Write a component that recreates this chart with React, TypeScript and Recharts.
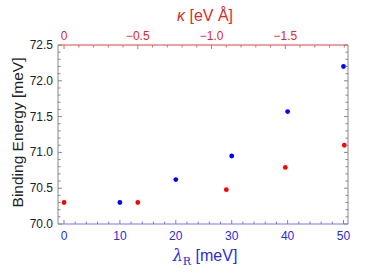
import { ScatterChart, Scatter, XAxis, YAxis, Label } from "recharts";

// blue points: bottom axis (lambda_R in meV)
const lambdaR = [10, 20, 30, 40, 50];
const bindingLambda = [70.3, 70.62, 70.95, 71.57, 72.2];

// red points: top axis (kappa in eV Å)
const kappa = [0, -0.5, -1.1, -1.5, -1.9];
const bindingKappa = [70.3, 70.3, 70.48, 70.79, 71.1];

const lambdaMajor = [0, 10, 20, 30, 40, 50];
const kappaMajor = [0, -0.5, -1.0, -1.5];
const energyMajor = [70.0, 70.5, 71.0, 71.5, 72.0, 72.5];

const range = (from: number, to: number, step: number) => {
  const out: number[] = [];
  const n = Math.round((to - from) / step);
  for (let i = 0; i <= n; i++) out.push(Math.round((from + i * step) * 1000) / 1000);
  return out;
};

const lambdaTicks = range(0, 50, 2);
const kappaTicks = range(-1.9, 0, 0.1);
const energyTicks = range(70, 72.5, 0.1);

const blueData = lambdaR.map((x, i) => ({ x, y: bindingLambda[i] }));
const redData = kappa.map((x, i) => ({ x, y: bindingKappa[i] }));

const BLUE = "#0000ff";
const RED = "#ff0000";
const BLUE_TXT = "#2a2ae0";
const RED_TXT = "#e02a2a";
const FONT = "Liberation Sans, Arial, sans-serif";

const isMajor = (v: number, majors: number[]) => majors.some((m) => Math.abs(m - v) < 1e-6);
const fmtMinus = (v: number, digits: number) =>
  v === 0 ? "0" : (v < 0 ? "\u2212" : "") + Math.abs(v).toFixed(digits);

function BottomTick(props: any) {
  const { x, y, payload } = props;
  const major = isMajor(payload.value, lambdaMajor);
  return (
    <g>
      <line x1={x} x2={x} y1={y} y2={y - (major ? 4 : 2.5)} stroke="#7777ee" />
      {major && (
        <text x={x} y={y + 16} textAnchor="middle" fill={BLUE_TXT} fontSize={12} fontFamily={FONT}>
          {payload.value}
        </text>
      )}
    </g>
  );
}

function TopTick(props: any) {
  const { x, y, payload } = props;
  const major = isMajor(payload.value, kappaMajor);
  return (
    <g>
      <line x1={x} x2={x} y1={y} y2={y + (major ? 4 : 2.5)} stroke="#e06666" />
      {major && (
        <text x={x} y={y - 5} textAnchor="middle" fill={RED_TXT} fontSize={12} fontFamily={FONT}>
          {fmtMinus(payload.value, 1)}
        </text>
      )}
    </g>
  );
}

function LeftTick(props: any) {
  const { x, y, payload } = props;
  const major = isMajor(payload.value, energyMajor);
  return (
    <g>
      <line x1={x} x2={x + (major ? 4 : 2.5)} y1={y} y2={y} stroke="#888" />
      {major && (
        <text x={x - 5} y={y + 4} textAnchor="end" fill="#222" fontSize={12} fontFamily={FONT}>
          {payload.value.toFixed(1)}
        </text>
      )}
    </g>
  );
}

function RightTick(props: any) {
  const { x, y, payload } = props;
  const major = isMajor(payload.value, energyMajor);
  return <line x1={x} x2={x - (major ? 4 : 2.5)} y1={y} y2={y} stroke="#888" />;
}

const Dot = (color: string) => (props: any) => <circle cx={props.cx} cy={props.cy} r={2.4} fill={color} />;

export default function App() {
  return (
    <div style={{ position: "absolute", left: 0, top: 0, background: "#fff" }}>
      <ScatterChart width={390} height={274} margin={{ top: 0, right: 41, bottom: 0, left: 0 }}>
        <XAxis
          xAxisId="bottom"
          dataKey="x"
          type="number"
          domain={[-1.07, 50.8]}
          allowDataOverflow
          ticks={lambdaTicks}
          interval={0}
          tickSize={0}
          tickMargin={0}
          tick={<BottomTick />}
          axisLine={{ stroke: "#7777ee" }}
          height={50}
        >
          <Label
            content={(p: any) => {
              const vb = p.viewBox;
              return (
                <text x={vb.x + vb.width / 2 + 2} y={vb.y + 37} textAnchor="middle" fill={BLUE_TXT} fontSize={16} fontFamily={FONT}>
                  <tspan fontStyle="italic" fontFamily="DejaVu Serif, serif">λ</tspan>
                  <tspan fontSize={11} dy={4} fontFamily="DejaVu Serif, serif">R</tspan>
                  <tspan dy={-4}> [meV]</tspan>
                </text>
              );
            }}
          />
        </XAxis>
        <XAxis
          xAxisId="top"
          orientation="top"
          dataKey="x"
          type="number"
          reversed
          domain={[-1.925, 0.041]}
          allowDataOverflow
          ticks={kappaTicks}
          interval={0}
          tickSize={0}
          tickMargin={0}
          tick={<TopTick />}
          axisLine={{ stroke: "#e04444" }}
          height={45}
        >
          <Label
            content={(p: any) => {
              const vb = p.viewBox;
              return (
                <text x={vb.x + vb.width / 2 + 2} y={vb.y + 21} textAnchor="middle" fill={RED_TXT} fontSize={16} fontFamily={FONT}>
                  <tspan fontStyle="italic">κ</tspan>
                  <tspan> [eV Å]</tspan>
                </text>
              );
            }}
          />
        </XAxis>
        <YAxis
          yAxisId="left"
          dataKey="y"
          type="number"
          domain={[70, 72.5]}
          allowDataOverflow
          ticks={energyTicks}
          interval={0}
          tickSize={0}
          tickMargin={0}
          tick={<LeftTick />}
          axisLine={{ stroke: "#888" }}
          width={58}
        >
          <Label
            content={(p: any) => {
              const vb = p.viewBox;
              const cx = 17;
              const cy = vb.y + vb.height / 2 - 2;
              return (
                <text x={cx} y={cy} transform={`rotate(-90 ${cx} ${cy})`} textAnchor="middle" dominantBaseline="central" fill="#222" fontSize={15.5} fontFamily={FONT}>
                  Binding Energy [meV]
                </text>
              );
            }}
          />
        </YAxis>
        <YAxis
          yAxisId="right"
          orientation="right"
          type="number"
          domain={[70, 72.5]}
          allowDataOverflow
          ticks={energyTicks}
          interval={0}
          tickSize={0}
          tickMargin={0}
          tick={<RightTick />}
          axisLine={{ stroke: "#888" }}
          width={1}
        />
        <Scatter data={blueData} xAxisId="bottom" yAxisId="left" fill={BLUE} shape={Dot(BLUE)} isAnimationActive={false} />
        <Scatter data={redData} xAxisId="top" yAxisId="left" fill={RED} shape={Dot(RED)} isAnimationActive={false} />
      </ScatterChart>
    </div>
  );
}
